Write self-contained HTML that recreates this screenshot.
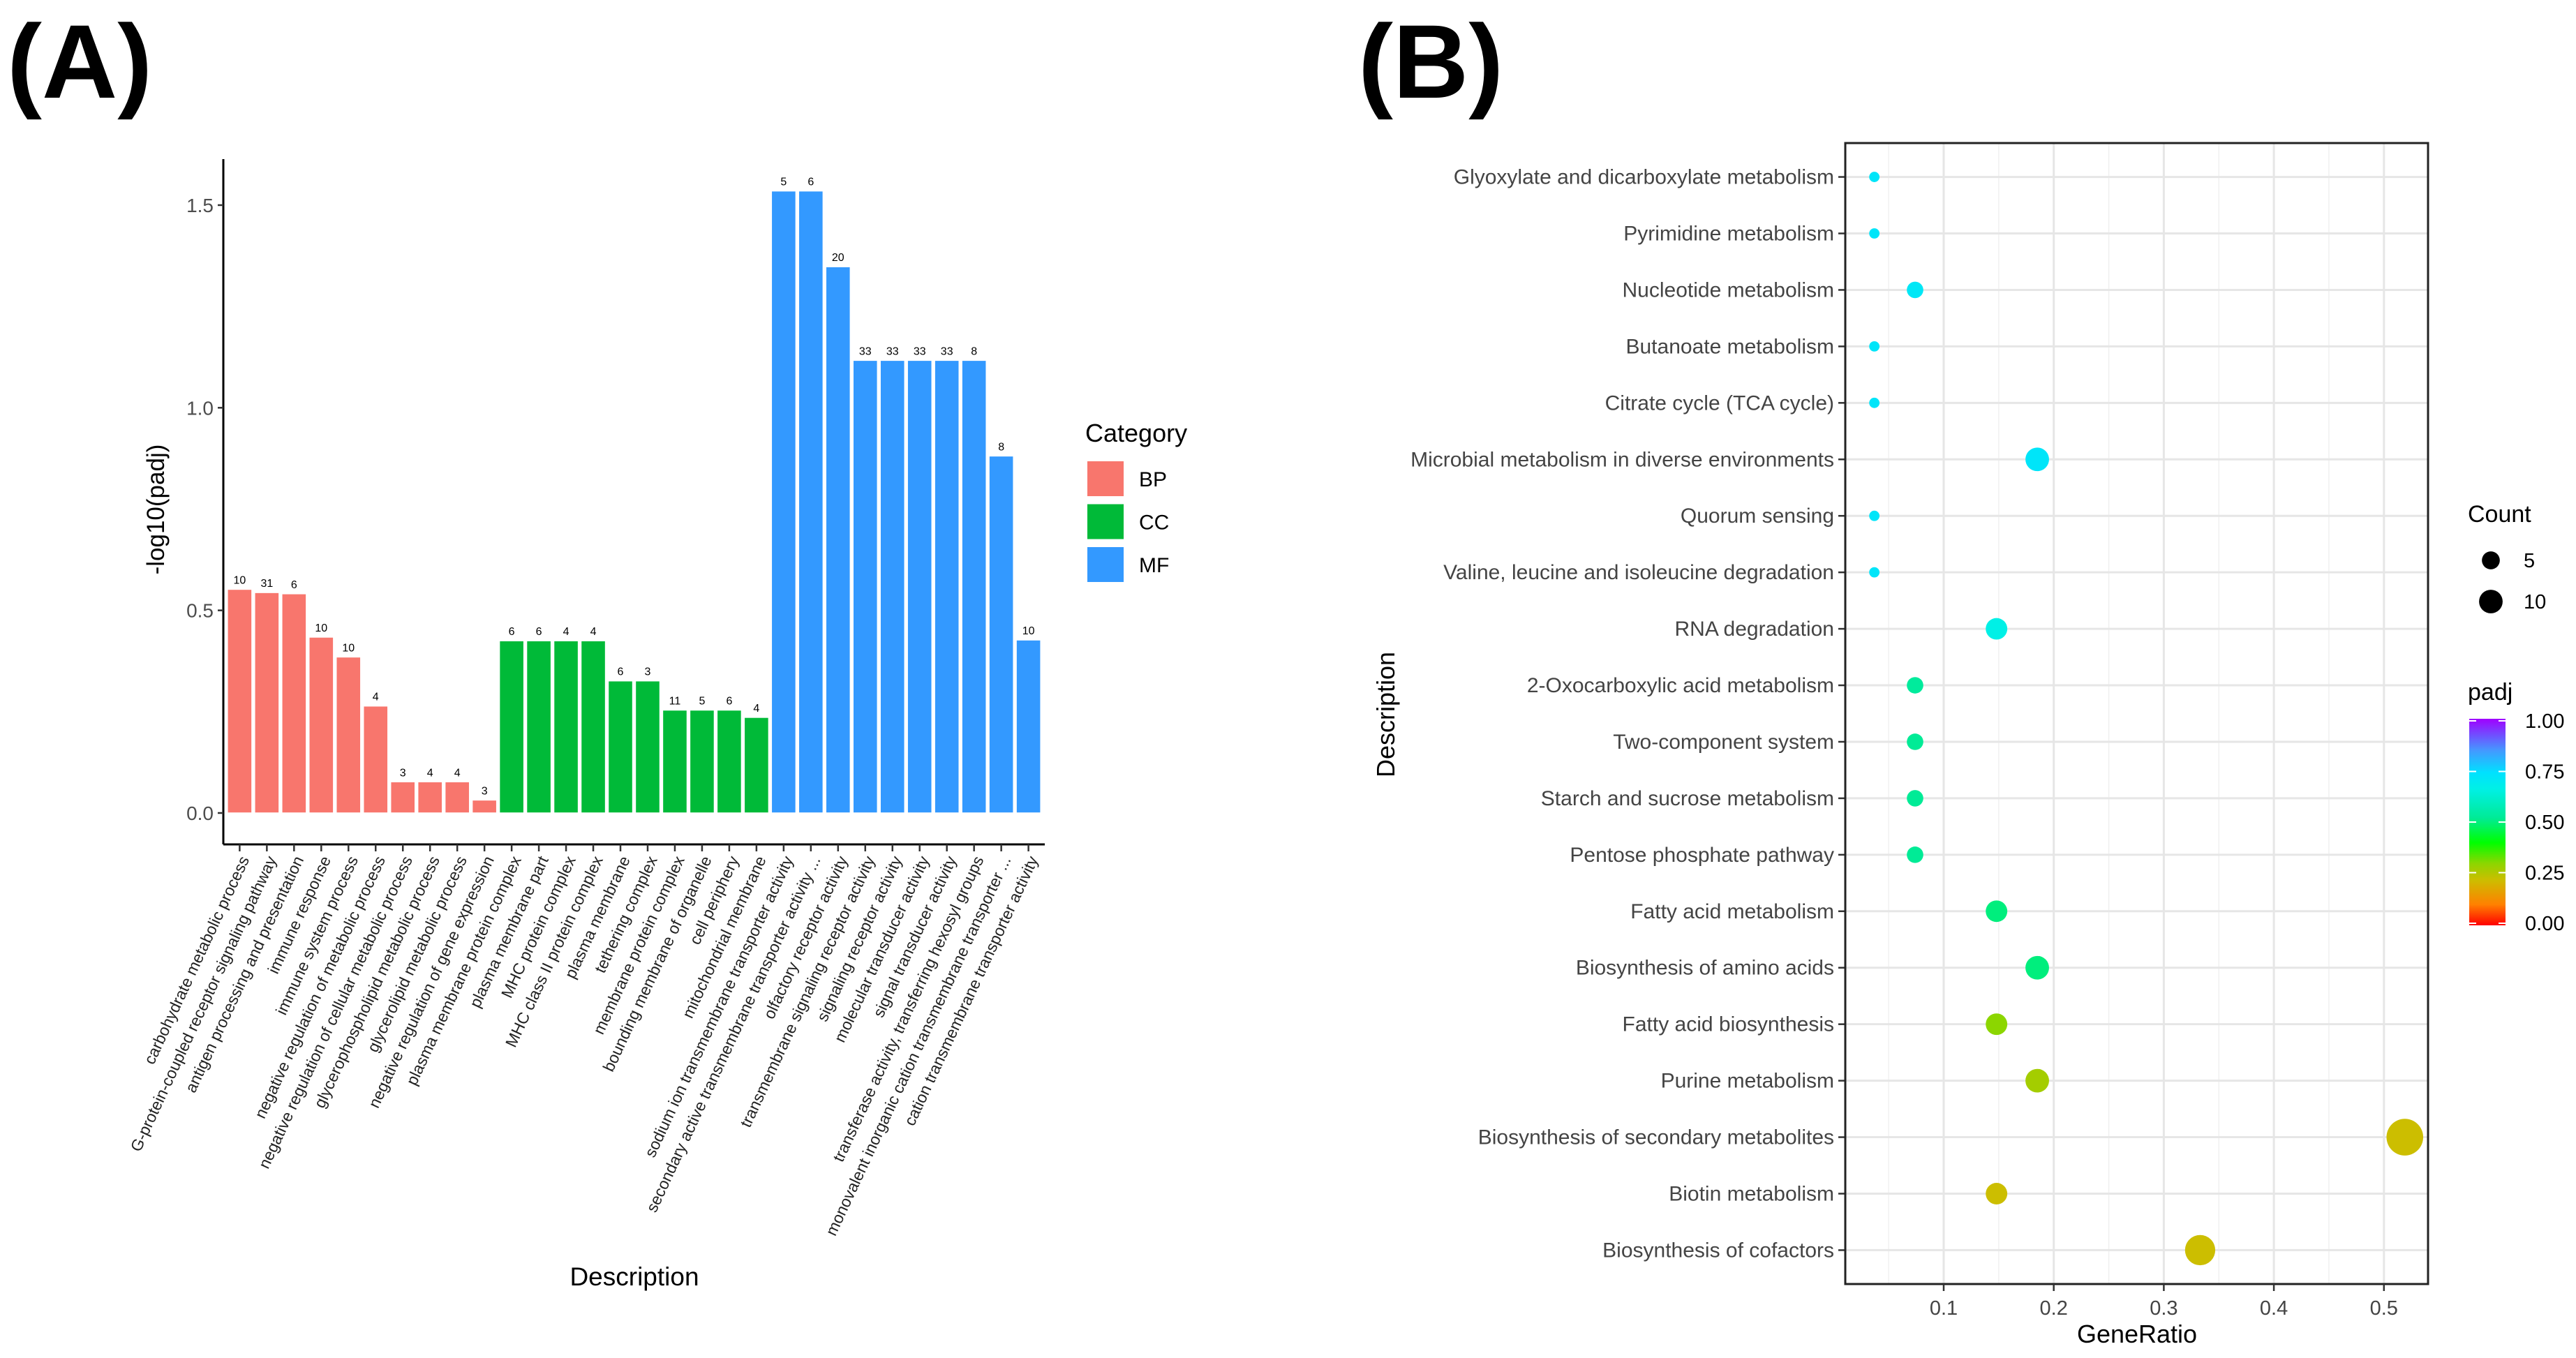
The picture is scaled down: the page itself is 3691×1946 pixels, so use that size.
<!DOCTYPE html>
<html><head><meta charset="utf-8"><style>
html,body{margin:0;padding:0;background:#fff;}
svg{display:block;font-family:"Liberation Sans",Arial,sans-serif;}
</style></head><body>
<svg id="fig" width="3691" height="1946" viewBox="0 0 3691 1946">
<text x="10" y="140" font-size="150" font-weight="bold">(A)</text>
<text x="1946" y="140" font-size="150" font-weight="bold">(B)</text>
<g id="chartA"></g>
<g id="chartB"></g>
</svg>
<script>
// ---------- Panel A data ----------
const barLabels = ["carbohydrate metabolic process","G-protein-coupled receptor signaling pathway","antigen processing and presentation","immune response","immune system process","negative regulation of metabolic process","negative regulation of cellular metabolic process","glycerophospholipid metabolic process","glycerolipid metabolic process","negative regulation of gene expression","plasma membrane protein complex","plasma membrane part","MHC protein complex","MHC class II protein complex","plasma membrane","tethering complex","membrane protein complex","bounding membrane of organelle","cell periphery","mitochondrial membrane","sodium ion transmembrane transporter activity","secondary active transmembrane transporter activity ...","olfactory receptor activity","transmembrane signaling receptor activity","signaling receptor activity","molecular transducer activity","signal transducer activity","transferase activity, transferring hexosyl groups","monovalent inorganic cation transmembrane transporter ...","cation transmembrane transporter activity"];
const barCategory = ["BP","BP","BP","BP","BP","BP","BP","BP","BP","BP","CC","CC","CC","CC","CC","CC","CC","CC","CC","CC","MF","MF","MF","MF","MF","MF","MF","MF","MF","MF"];
const barValues = [0.552,0.544,0.541,0.434,0.385,0.264,0.077,0.077,0.077,0.032,0.425,0.425,0.425,0.425,0.326,0.326,0.254,0.254,0.254,0.236,1.535,1.535,1.348,1.117,1.117,1.117,1.117,1.117,0.881,0.427];
const barCounts = [10,31,6,10,10,4,3,4,4,3,6,6,4,4,6,3,11,5,6,4,5,6,20,33,33,33,33,8,8,10];
const yTicksA = [0.0,0.5,1.0,1.5];
const yTickLabelsA = ["0.0","0.5","1.0","1.5"];
const categories = ["BP","CC","MF"];
const catColors = {BP:"#F8766D",CC:"#00BA38",MF:"#3399FF"};

// ---------- Panel B data ----------
const pathways = ["Glyoxylate and dicarboxylate metabolism","Pyrimidine metabolism","Nucleotide metabolism","Butanoate metabolism","Citrate cycle (TCA cycle)","Microbial metabolism in diverse environments","Quorum sensing","Valine, leucine and isoleucine degradation","RNA degradation","2-Oxocarboxylic acid metabolism","Two-component system","Starch and sucrose metabolism","Pentose phosphate pathway","Fatty acid metabolism","Biosynthesis of amino acids","Fatty acid biosynthesis","Purine metabolism","Biosynthesis of secondary metabolites","Biotin metabolism","Biosynthesis of cofactors"];
const geneRatio = [0.037,0.037,0.074,0.037,0.037,0.185,0.037,0.037,0.148,0.074,0.074,0.074,0.074,0.148,0.185,0.148,0.185,0.519,0.148,0.333];
const pathCounts = [1,1,4,1,1,10,1,1,8,4,4,4,4,8,10,8,10,28,8,18];
const padj = [0.72,0.72,0.71,0.72,0.72,0.72,0.72,0.72,0.66,0.53,0.52,0.52,0.52,0.5,0.5,0.3,0.27,0.22,0.22,0.22];
const xTicksB = [0.1,0.2,0.3,0.4,0.5];
const xTickLabelsB = ["0.1","0.2","0.3","0.4","0.5"];
const sizeLegendCounts = [5,10];
const padjTicks = [0,0.25,0.5,0.75,1];
const padjTickLabels = ["0.00","0.25","0.50","0.75","1.00"];

const NS="http://www.w3.org/2000/svg";
function mk(parent,tag,attrs,text){const e=document.createElementNS(NS,tag);for(const k in attrs)e.setAttribute(k,attrs[k]);if(text!==undefined)e.textContent=text;parent.appendChild(e);return e;}

// ================= Panel A =================
const A=document.getElementById('chartA');
const aLeft=320,aRight=1497,aTop=228,aBottom=1210;
const aY0=1165,aPerUnit=580.7;
function yA(v){return aY0-v*aPerUnit;}
const nA=barLabels.length;
const bandA=(aRight-aLeft)/(nA-1+1.2);
function xA(i){return aLeft+bandA*(0.6+i);}
barValues.forEach((v,i)=>{
  const w=bandA*0.9;
  const r=mk(A,'rect',{x:xA(i)-w/2,y:yA(v),width:w,height:yA(0)-yA(v),fill:catColors[barCategory[i]],stroke:'#ffffff','stroke-width':1.5});
  
  
  const t=mk(A,'text',{x:xA(i),y:yA(v)-8,'font-size':16,'text-anchor':'middle',fill:'#000'},String(barCounts[i]));
  
  
});
let ax=mk(A,'line',{x1:aLeft,y1:aTop,x2:aLeft,y2:aBottom,stroke:'#000','stroke-width':3});


ax=mk(A,'line',{x1:aLeft,y1:aBottom,x2:aRight,y2:aBottom,stroke:'#000','stroke-width':3});


yTicksA.forEach((v,i)=>{
  mk(A,'line',{x1:aLeft-8,y1:yA(v),x2:aLeft,y2:yA(v),stroke:'#333','stroke-width':2.5});
  const t=mk(A,'text',{x:aLeft-14,y:yA(v)+10,'font-size':28,'text-anchor':'end',fill:'#4d4d4d'},yTickLabelsA[i]);
  
  
});
barLabels.forEach((lab,i)=>{
  const x=xA(i);
  mk(A,'line',{x1:x,y1:aBottom,x2:x,y2:aBottom+10,stroke:'#333','stroke-width':2.5});
  const t=mk(A,'text',{x:x+7,y:aBottom+18,'font-size':23,'text-anchor':'end',fill:'#222',transform:`rotate(-65 ${x+7} ${aBottom+18})`,dy:'0.35em'},lab);
  
  
});
let tt=mk(A,'text',{x:235,y:730,'font-size':35,'text-anchor':'middle',fill:'#000',transform:'rotate(-90 235 730)'},'-log10(padj)');


tt=mk(A,'text',{x:909,y:1842,'font-size':37,'text-anchor':'middle',fill:'#000'},'Description');


tt=mk(A,'text',{x:1555,y:633,'font-size':36,fill:'#000'},'Category');


categories.forEach((c,i)=>{
  const y=661+i*61.5;
  const r=mk(A,'rect',{x:1558,y:y,width:52,height:50,fill:catColors[c]});
  
  
  const t=mk(A,'text',{x:1632,y:y+36,'font-size':30,fill:'#000'},c);
  
  
});

// ================= Panel B =================
const B=document.getElementById('chartB');
const pL=2644,pR=3479,pT=205,pB=1840;
const xPer=1577,x01=2785;
function xB(v){return x01+(v-0.1)*xPer;}
const rowStep=(pB-pT)/(pathways.length-1+1.2);
function yB(i){return pT+rowStep*(0.6+i);}
function rB(c){return 3+4.4*Math.sqrt(c);}
const stops=[[0,[255,0,0]],[0.1,[255,128,0]],[0.22,[204,190,0]],[0.3,[140,214,0]],[0.4,[0,255,0]],[0.52,[0,235,150]],[0.66,[0,240,230]],[0.74,[0,225,255]],[0.85,[70,150,255]],[1,[160,0,255]]];
function colorOf(p){for(let k=0;k<stops.length-1;k++){const [a,ca]=stops[k],[b,cb]=stops[k+1];if(p<=b){const t=(p-a)/(b-a);return 'rgb('+ca.map((v,j)=>Math.round(v+(cb[j]-v)*t)).join(',')+')';}}return 'rgb(160,0,255)';}
let pr=mk(B,'rect',{x:pL,y:pT,width:pR-pL,height:pB-pT,fill:'#fff'});


[0.05,0.15,0.25,0.35,0.45].forEach(v=>{mk(B,'line',{x1:xB(v),y1:pT,x2:xB(v),y2:pB,stroke:'#f0f0f0','stroke-width':1.5});});
xTicksB.forEach(v=>{mk(B,'line',{x1:xB(v),y1:pT,x2:xB(v),y2:pB,stroke:'#e6e6e6','stroke-width':3});});
pathways.forEach((p,i)=>{mk(B,'line',{x1:pL,y1:yB(i),x2:pR,y2:yB(i),stroke:'#e6e6e6','stroke-width':3});});
pathways.forEach((p,i)=>{
  const c=mk(B,'circle',{cx:xB(geneRatio[i]),cy:yB(i),r:rB(pathCounts[i]),fill:colorOf(padj[i])});
  
  
  mk(B,'line',{x1:pL-10,y1:yB(i),x2:pL,y2:yB(i),stroke:'#333','stroke-width':2.5});
  const t=mk(B,'text',{x:pL-16,y:yB(i)+10,'font-size':30,'text-anchor':'end',fill:'#444'},p);
  
  
});
pr=mk(B,'rect',{x:pL,y:pT,width:pR-pL,height:pB-pT,fill:'none',stroke:'#222','stroke-width':3});


xTicksB.forEach((v,i)=>{
  mk(B,'line',{x1:xB(v),y1:pB,x2:xB(v),y2:pB+10,stroke:'#333','stroke-width':2.5});
  const t=mk(B,'text',{x:xB(v),y:pB+44,'font-size':29,'text-anchor':'middle',fill:'#444'},xTickLabelsB[i]);
  
  
});
tt=mk(B,'text',{x:3062,y:1924,'font-size':36,'text-anchor':'middle',fill:'#000'},'GeneRatio');


tt=mk(B,'text',{x:1998,y:1024,'font-size':36,'text-anchor':'middle',fill:'#000',transform:'rotate(-90 1998 1024)'},'Description');


tt=mk(B,'text',{x:3536,y:748,'font-size':34,fill:'#000'},'Count');


sizeLegendCounts.forEach((c,i)=>{
  const y=803+i*59;
  const d=mk(B,'circle',{cx:3569,cy:y,r:rB(c),fill:'#000'});
  
  
  const t=mk(B,'text',{x:3616,y:y+10,'font-size':29,fill:'#000'},String(c));
  
  
});
tt=mk(B,'text',{x:3536,y:1003,'font-size':34,fill:'#000'},'padj');


const defs=mk(B,'defs',{});
const grad=mk(defs,'linearGradient',{id:'padjGrad',x1:0,y1:1,x2:0,y2:0});
stops.forEach(s=>mk(grad,'stop',{offset:s[0],'stop-color':'rgb('+s[1].join(',')+')'}));
const cbTop=1033,cbBot=1323;
function yCb(v){return cbBot-(cbBot-cbTop)*v;}
const cb=mk(B,'rect',{x:3538,y:cbTop-3,width:52,height:cbBot-cbTop+6,fill:'url(#padjGrad)'});


padjTicks.forEach((v,i)=>{
  mk(B,'line',{x1:3538,y1:yCb(v),x2:3548,y2:yCb(v),stroke:'#fff','stroke-width':2});
  mk(B,'line',{x1:3580,y1:yCb(v),x2:3590,y2:yCb(v),stroke:'#fff','stroke-width':2});
  const t=mk(B,'text',{x:3618,y:yCb(v)+10,'font-size':29,fill:'#000'},padjTickLabels[i]);
  
  
});
</script>
</body></html>
